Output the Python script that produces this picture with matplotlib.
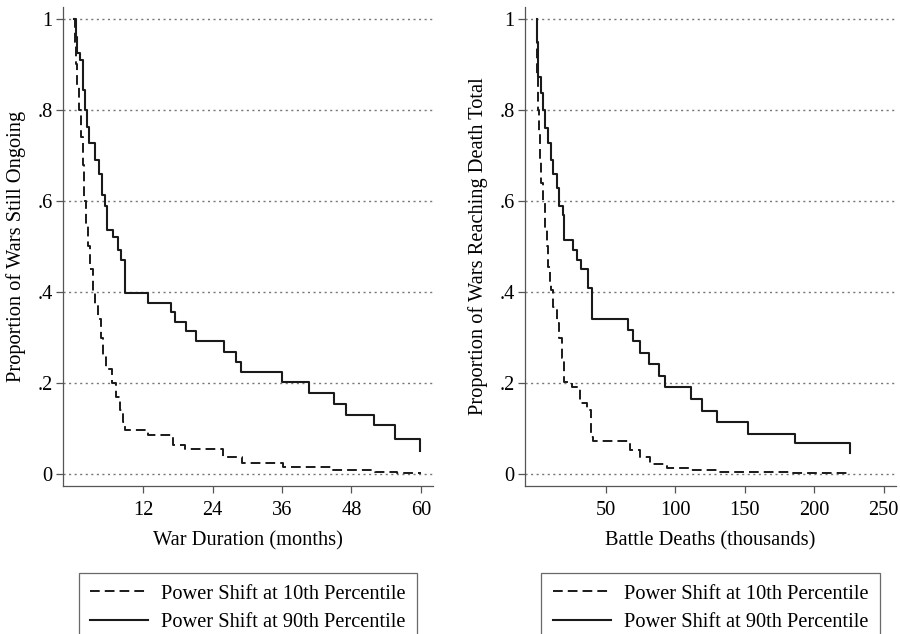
import matplotlib
matplotlib.use("Agg")
import matplotlib.pyplot as plt

plt.rcParams['font.family'] = 'serif'
plt.rcParams['font.serif'] = ['Liberation Serif', 'DejaVu Serif']

# war duration (months) - survival steps
dur_t_p10 = [0, 0.2, 0.4, 0.6, 0.9, 1.2, 1.5, 1.8, 2.1, 2.4, 2.8, 3.3, 3.7, 4.1, 4.6, 5.1, 5.6,
             6.5, 7.3, 7.9, 8.4, 8.8, 12.8, 17.2, 19.2, 25.8, 29.0, 36.1, 44.8, 52.0, 55.8, 60.0]
dur_s_p10 = [1, 0.95, 0.90, 0.85, 0.80, 0.74, 0.68, 0.60, 0.55, 0.50, 0.45, 0.40, 0.37, 0.34, 0.30, 0.26, 0.23,
             0.20, 0.17, 0.14, 0.115, 0.098, 0.086, 0.064, 0.055, 0.038, 0.025, 0.016, 0.009, 0.004, 0.002, 0.002]

dur_t_p90 = [0, 0.3, 0.5, 1.0, 1.5, 1.9, 2.2, 2.6, 3.6, 4.3, 4.8, 5.3, 5.7, 6.7, 7.6, 8.1, 8.8,
             12.8, 16.8, 17.4, 19.3, 21.1, 25.9, 28.0, 28.9, 35.9, 40.7, 44.9, 47.1, 51.9, 55.5, 59.8]
dur_s_p90 = [1, 0.96, 0.925, 0.91, 0.844, 0.80, 0.763, 0.727, 0.69, 0.66, 0.613, 0.59, 0.536, 0.52, 0.492, 0.47, 0.397,
             0.376, 0.357, 0.335, 0.314, 0.292, 0.269, 0.247, 0.224, 0.202, 0.179, 0.154, 0.131, 0.108, 0.077, 0.05]

# battle deaths (thousands)
bd_t_p10 = [0, 0.3, 0.6, 1.2, 1.8, 2.4, 3.3, 4.3, 6.0, 7.2, 8.4, 9.6, 10.3, 12.0, 14.4, 16.0, 18.0, 19.7,
            25.3, 31.2, 36.1, 39.2, 40.8, 67.3, 74.5, 81.7, 93.7, 110.6, 129.9, 185.0, 224.0]
bd_s_p10 = [1, 0.93, 0.873, 0.80, 0.75, 0.69, 0.64, 0.60, 0.54, 0.50, 0.455, 0.42, 0.404, 0.368, 0.332, 0.30, 0.255, 0.203,
            0.192, 0.156, 0.141, 0.082, 0.073, 0.053, 0.038, 0.023, 0.0125, 0.009, 0.005, 0.003, 0.003]

bd_t_p90 = [0, 0.5, 1.2, 2.9, 4.5, 6.0, 8.4, 10.1, 12.0, 14.4, 16.3, 18.8, 20.0, 26.4, 28.8, 31.7, 36.8, 39.7,
            66.1, 69.7, 74.5, 81.2, 88.5, 92.6, 111.3, 119.0, 130.3, 152.0, 185.9, 225.5]
bd_s_p90 = [1, 0.95, 0.873, 0.837, 0.80, 0.76, 0.727, 0.69, 0.66, 0.628, 0.59, 0.57, 0.514, 0.492, 0.47, 0.45, 0.409, 0.34,
            0.316, 0.293, 0.267, 0.243, 0.215, 0.192, 0.164, 0.138, 0.114, 0.089, 0.069, 0.047]

yticks = [0, 0.2, 0.4, 0.6, 0.8, 1]
ytick_labels = ['0', '.2', '.4', '.6', '.8', '1']
legend_labels = ['Power Shift at 10th Percentile', 'Power Shift at 90th Percentile']

FS = 14.7
W, H = 900, 634
fig = plt.figure(figsize=(9, 6.34), dpi=100)
ax1 = fig.add_axes([63 / W, 148 / H, 370 / W, 479 / H])
ax2 = fig.add_axes([525 / W, 148 / H, 371 / W, 479 / H])

dash = (0, (5, 2.6))
panels = [
    (ax1, dur_t_p10, dur_s_p10, dur_t_p90, dur_s_p90, (-1.9, 62.1), [12, 24, 36, 48, 60],
     'War Duration (months)', 'Proportion of Wars Still Ongoing'),
    (ax2, bd_t_p10, bd_s_p10, bd_t_p90, bd_s_p90, (-8.4, 259), [50, 100, 150, 200, 250],
     'Battle Deaths (thousands)', 'Proportion of Wars Reaching Death Total'),
]

for ax, t10, s10, t90, s90, xlim, xt, xl, yl in panels:
    for y in yticks:
        ax.axhline(y, color='#777777', lw=1.0, ls=(0, (1.5, 2.5)), zorder=1)
    h1, = ax.plot(t10, s10, drawstyle='steps-post', color='#1a1a1a', lw=1.4, ls=dash, zorder=3)
    h2, = ax.plot(t90, s90, drawstyle='steps-post', color='#1a1a1a', lw=1.5, zorder=3)
    ax.set_xlim(*xlim)
    ax.set_ylim(-0.026, 1.026)
    ax.set_xticks(xt)
    ax.set_xticklabels([str(v) for v in xt], fontsize=FS)
    ax.set_yticks(yticks)
    ax.set_yticklabels(ytick_labels, fontsize=FS)
    ax.tick_params(direction='out', length=5, width=0.9, color='#555555')
    ax.tick_params(axis='x', pad=6)
    ax.tick_params(axis='y', pad=2.5)
    ax.spines['top'].set_visible(False)
    ax.spines['right'].set_visible(False)
    for s in ['left', 'bottom']:
        ax.spines[s].set_color('#555555')
        ax.spines[s].set_linewidth(0.9)
    ax.set_xlabel(xl, fontsize=FS, labelpad=8)
    ax.set_ylabel(yl, fontsize=FS, labelpad=8)
    pos = ax.get_position()
    leg = ax.legend([h1, h2], legend_labels, loc='upper center',
                    bbox_to_anchor=(pos.x0 + pos.width / 2, 61 / H), bbox_transform=fig.transFigure,
                    fontsize=FS, frameon=True, fancybox=False, handlelength=2.85, handletextpad=0.65,
                    labelspacing=0.45, borderpad=0.55, borderaxespad=0)
    leg.get_frame().set_edgecolor('#444444')
    leg.get_frame().set_linewidth(0.9)

fig.savefig('out.png', dpi=100)
